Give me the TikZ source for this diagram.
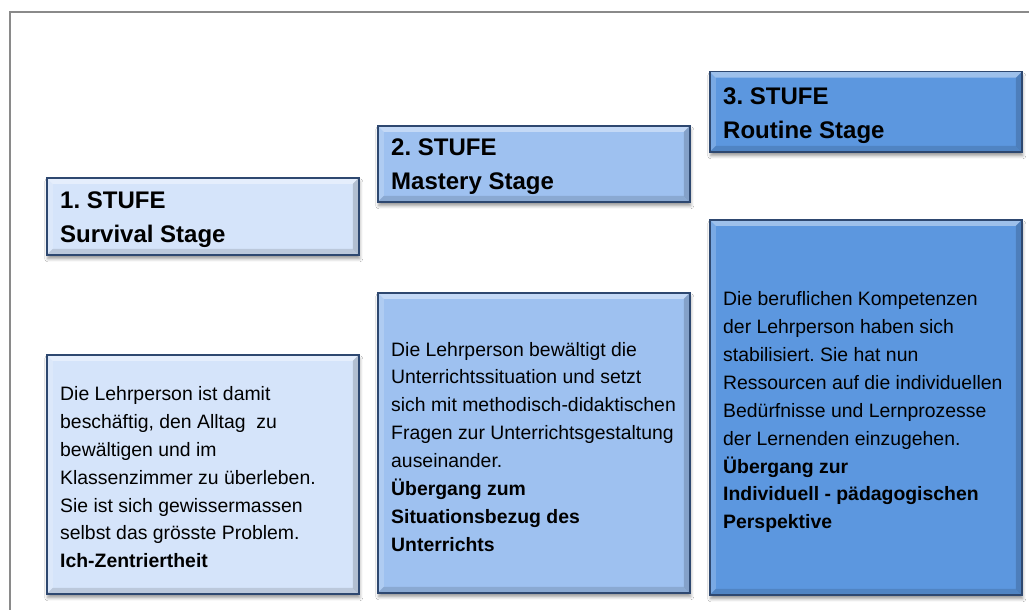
\documentclass[tikz,border=0pt]{standalone}
\usepackage{fontspec}
\setmainfont{Liberation Sans}
\usetikzlibrary{shadows.blur,calc}
\frenchspacing

\definecolor{frameGray}{RGB}{138,138,138}
\definecolor{edgeBlue}{RGB}{46,72,112}
\definecolor{stageA}{RGB}{213,228,250}
\definecolor{stageB}{RGB}{158,193,240}
\definecolor{stageC}{RGB}{92,151,223}

% bevelled edges of a card: light top/left, dark right/bottom
\newcommand\cardbevel{%
  \coordinate (bvnw) at (path picture bounding box.north west);
  \coordinate (bvne) at (path picture bounding box.north east);
  \coordinate (bvsw) at (path picture bounding box.south west);
  \coordinate (bvse) at (path picture bounding box.south east);
  \fill[white,opacity=.40] (bvnw) -- (bvne) -- ($(bvne)+(-6pt,-6pt)$) -- ($(bvnw)+(6pt,-6pt)$) -- cycle;
  \fill[white,opacity=.18] (bvnw) -- ($(bvnw)+(6pt,-6pt)$) -- ($(bvsw)+(6pt,6pt)$) -- (bvsw) -- cycle;
  \fill[black,opacity=.16] (bvne) -- (bvse) -- ($(bvse)+(-6pt,6pt)$) -- ($(bvne)+(-6pt,-6pt)$) -- cycle;
  \fill[black,opacity=.12] (bvsw) -- (bvse) -- ($(bvse)+(-6pt,6pt)$) -- ($(bvsw)+(6pt,6pt)$) -- cycle;
}

\tikzset{
  card/.style={draw=edgeBlue, line width=1.5pt, anchor=north west,
    minimum width=312pt, inner sep=0pt,
    blur shadow={shadow xshift=1pt, shadow yshift=-4pt,
      shadow blur radius=3pt, shadow opacity=40},
    path picture={\cardbevel}},
  cardtext/.style={anchor=west, xshift=14pt, inner sep=0pt, align=left,
    text=black},
  titletext/.style={cardtext, font=\fontsize{24}{34}\selectfont\bfseries},
  bodytext/.style={cardtext, font=\fontsize{19.4}{27.9}\selectfont},
}

\begin{document}
\begin{tikzpicture}[x=1pt,y=-1pt]
  \useasboundingbox (0,0) rectangle (1029,610);
  \fill[white] (0,0) rectangle (1029,610);

  % outer frame (open towards the right and bottom edge)
  \begin{scope}
    \clip (0,0) rectangle (1029,610);
    \draw[frameGray, line width=1.8pt] (10,620) -- (10,12) -- (1040,12);
  \end{scope}

  % stage 1
  \node[card, fill=stageA, minimum height=77pt] (s1head) at (46,177) {};
  \node[titletext] (s1headtxt) at ([yshift=-3pt]s1head.west) {1. STUFE\\Survival Stage};
  \node[card, fill=stageA, minimum height=239pt] (s1body) at (46,354) {};
  \node[bodytext] (s1bodytxt) at ([yshift=-3pt]s1body.west)
    {Die Lehrperson ist damit\\
     beschäftig, den Alltag~ zu\\
     bewältigen und im\\
     Klassenzimmer zu überleben.\\
     Sie ist sich gewissermassen\\
     selbst das grösste Problem.\\
     \textbf{Ich-Zentriertheit}};

  % stage 2
  \node[card, fill=stageB, minimum height=76pt] (s2head) at (377,125) {};
  \node[titletext] (s2headtxt) at ([yshift=-3pt]s2head.west) {2. STUFE\\Mastery Stage};
  \node[card, fill=stageB, minimum height=300pt] (s2body) at (377,292) {};
  \node[bodytext] (s2bodytxt) at ([yshift=-4pt]s2body.west)
    {Die Lehrperson bewältigt die\\
     Unterrichtssituation und setzt\\
     sich mit methodisch-didaktischen\\
     Fragen zur Unterrichtsgestaltung\\
     auseinander.\\
     \textbf{Übergang zum}\\
     \textbf{Situationsbezug des}\\
     \textbf{Unterrichts}};

  % stage 3
  \node[card, fill=stageC, minimum height=80pt] (s3head) at (709,71) {};
  \node[titletext] (s3headtxt) at ([yshift=-4pt]s3head.west) {3. STUFE\\Routine Stage};
  \node[card, fill=stageC, minimum height=375pt] (s3body) at (709,219) {};
  \node[bodytext] (s3bodytxt) at ([yshift=-5pt]s3body.west)
    {Die beruflichen Kompetenzen\\
     der Lehrperson haben sich\\
     stabilisiert. Sie hat nun\\
     Ressourcen auf die individuellen\\
     Bedürfnisse und Lernprozesse\\
     der Lernenden einzugehen.\\
     \textbf{Übergang zur}\\
     \textbf{Individuell - pädagogischen}\\
     \textbf{Perspektive}};
\end{tikzpicture}
\end{document}
